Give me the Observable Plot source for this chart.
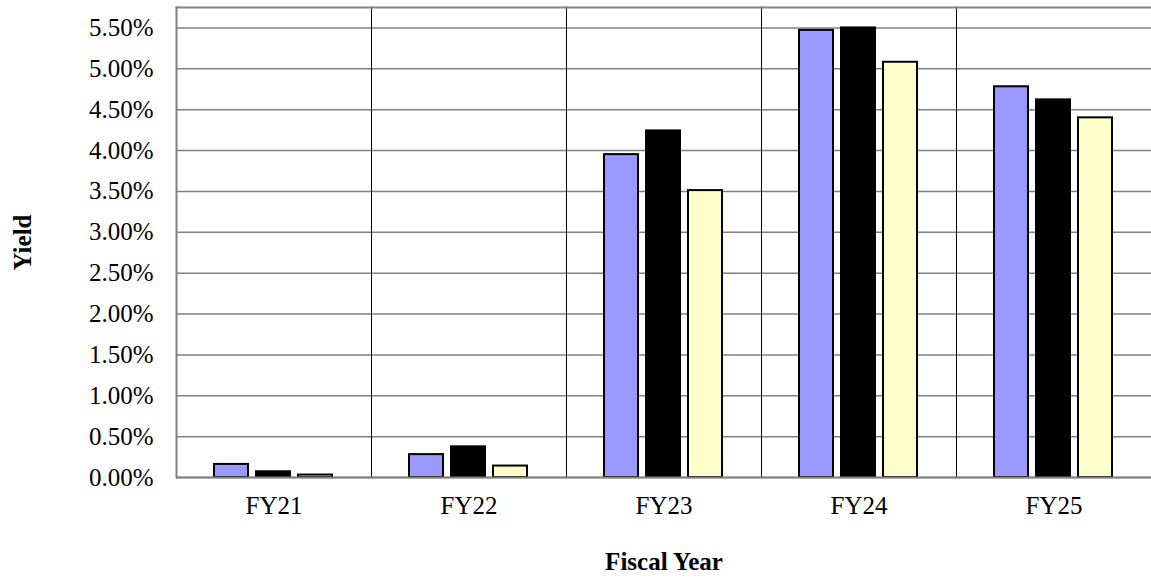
<!DOCTYPE html>
<html>
<head>
<meta charset="utf-8">
<script src="https://cdn.jsdelivr.net/npm/d3@7"></script>
<script src="https://cdn.jsdelivr.net/npm/@observablehq/plot@0.6"></script>
<style>
  html, body { margin: 0; padding: 0; background: #fff; }
  #chart svg g[aria-label$="axis label"] text { font-weight: bold; }
</style>
</head>
<body>
<div id="chart"></div>
<script>
const categories = ["FY21", "FY22", "FY23", "FY24", "FY25"];
const seriesNames = ["Series 1", "Series 2", "Series 3"];
const series1 = [0.0016, 0.0028, 0.0395, 0.0547, 0.0478];
const series2 = [0.0007, 0.00375, 0.0424, 0.0550, 0.0462];
const series3 = [0.0003, 0.0014, 0.0351, 0.0508, 0.0440];
const seriesColors = ["#9999ff", "#000000", "#ffffcc"];
const yTicks = [0, 0.005, 0.01, 0.015, 0.02, 0.025, 0.03, 0.035, 0.04, 0.045, 0.05, 0.055];
const yMax = 0.0575;

const allSeries = [series1, series2, series3];
const data = [];
categories.forEach((c, i) => {
  allSeries.forEach((s, j) => data.push({category: c, series: seriesNames[j], value: s[i]}));
});

const chart = Plot.plot({
  width: 1151,
  height: 578,
  marginLeft: 176,
  marginRight: 0,
  marginTop: 7,
  marginBottom: 101,
  style: {fontFamily: "'Liberation Serif', 'Times New Roman', serif", fontSize: "25px", color: "#000", background: "#fff"},
  fx: {domain: categories, padding: 0},
  x: {domain: seriesNames, paddingInner: 0.19, paddingOuter: 0.884, axis: null},
  y: {domain: [0, yMax]},
  color: {domain: seriesNames, range: seriesColors},
  marks: [
    Plot.gridY(yTicks, {stroke: "#808080", strokeOpacity: 1, strokeWidth: 1.5}),
    Plot.frame({anchor: "left", stroke: "#000", strokeWidth: 1}),
    Plot.frame({anchor: "top", stroke: "#808080", strokeWidth: 2}),
    Plot.barY(data, {fx: "category", x: "series", y: "value", fill: "series", stroke: "#000", strokeWidth: 2}),
    Plot.ruleY([0], {stroke: "#808080", strokeWidth: 2}),
    Plot.frame({anchor: "left", facetAnchor: "left", stroke: "#808080", strokeWidth: 2}),
    Plot.axisY(yTicks, {tickFormat: d3.format(".2%"), tickSize: 0, tickPadding: 23, label: "Yield", labelArrow: "none", labelAnchor: "center", labelOffset: 163}),
    Plot.axisFx({anchor: "bottom", tickSize: 0, tickPadding: 19, label: "Fiscal Year", labelArrow: "none", labelAnchor: "center", labelOffset: 92})
  ]
});
document.getElementById("chart").appendChild(chart);
</script>
</body>
</html>
